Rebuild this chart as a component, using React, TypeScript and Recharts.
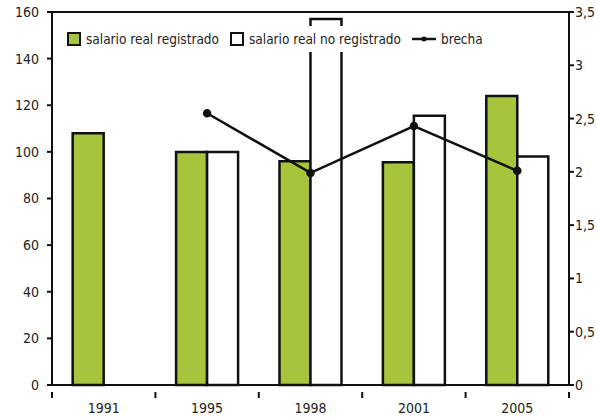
import React from "react";
import {
  ComposedChart,
  Bar,
  Line,
  XAxis,
  YAxis,
  ReferenceLine,
} from "recharts";

// años y series
const years = ["1991", "1995", "1998", "2001", "2005"];
const registrado = [108, 100, 96, 95.5, 124];
const noRegistrado = [null, 100, 157, 115.5, 98];
const brecha = [null, 2.55, 1.99, 2.43, 2.01];

const leftTicks = [0, 20, 40, 60, 80, 100, 120, 140, 160];
const rightTicks = [0, 0.5, 1, 1.5, 2, 2.5, 3, 3.5];

const GREEN = "#a6c43c";
const FONT = "'Liberation Sans Narrow', 'DejaVu Sans Condensed', 'Roboto Condensed', Arial, sans-serif";
const TEXT = "#222";

const data = years.map((y, i) => ({
  year: y,
  registrado: registrado[i],
  noRegistrado: noRegistrado[i],
  brecha: brecha[i],
}));

const W = 596;
const H = 418;
const LEFT_W = 52;
const RIGHT_W = 27;
const BAND = (W - LEFT_W - RIGHT_W) / years.length;

function YearTick(props: any) {
  const { x, y, payload, index } = props;
  const left = x - BAND / 2;
  const right = x + BAND / 2;
  return (
    <g>
      <line x1={left} y1={y - 1} x2={left} y2={y + 5} stroke="#111" strokeWidth={2} />
      {index === years.length - 1 && (
        <line x1={right} y1={y - 1} x2={right} y2={y + 5} stroke="#111" strokeWidth={2} />
      )}
      <text x={x} y={y + 20} textAnchor="middle" fill={TEXT} fontSize={14} fontFamily={FONT}>
        {payload.value}
      </text>
    </g>
  );
}

// leyenda superpuesta dentro del área del gráfico, con fondo blanco
function LegendBox() {
  const item = { display: "flex", alignItems: "center", marginRight: 11 } as const;
  const box = (fill: string) => (
    <span
      style={{
        display: "inline-block",
        width: 10,
        height: 10,
        border: "2px solid #111",
        background: fill,
        marginRight: 5,
      }}
    />
  );
  return (
    <div
      style={{
        position: "absolute",
        left: 63,
        top: 26,
        display: "flex",
        alignItems: "center",
        background: "#fff",
        padding: "4px 4px",
        fontFamily: FONT,
        fontSize: 13.5,
        color: TEXT,
        lineHeight: "18px",
        whiteSpace: "nowrap",
      }}
    >
      <span style={item}>{box(GREEN)}salario real registrado</span>
      <span style={item}>{box("#fff")}salario real no registrado</span>
      <span style={{ ...item, marginRight: 0 }}>
        <svg width={24} height={10} style={{ marginRight: 5 }}>
          <line x1={0} y1={5} x2={24} y2={5} stroke="#111" strokeWidth={2.5} />
          <circle cx={12} cy={5} r={2.5} fill="#111" />
        </svg>
        brecha
      </span>
    </div>
  );
}

export default function App() {
  return (
    <div style={{ position: "absolute", left: 0, top: 0, width: W, height: H, background: "#fff" }}>
      <ComposedChart
        width={W}
        height={H}
        data={data}
        margin={{ top: 12, right: 0, left: 0, bottom: 0 }}
        barCategoryGap="20%"
        barGap={0}
      >
        <XAxis
          dataKey="year"
          xAxisId="x"
          height={33}
          axisLine={{ stroke: "#111", strokeWidth: 2 }}
          tickLine={false}
          tick={<YearTick />}
          interval={0}
        />
        <YAxis
          yAxisId="left"
          orientation="left"
          width={LEFT_W}
          domain={[0, 160]}
          ticks={leftTicks}
          interval={0}
          axisLine={{ stroke: "#111", strokeWidth: 2 }}
          tickLine={{ stroke: "#111", strokeWidth: 2 }}
          tickSize={5}
          tickMargin={8}
          tick={{ fill: TEXT, fontSize: 14, fontFamily: FONT }}
        />
        <YAxis
          yAxisId="right"
          orientation="right"
          width={RIGHT_W}
          domain={[0, 3.5]}
          ticks={rightTicks}
          interval={0}
          axisLine={{ stroke: "#111", strokeWidth: 2 }}
          tickLine={{ stroke: "#111", strokeWidth: 2 }}
          tickSize={5}
          tickMargin={1}
          tickFormatter={(v: number) => String(v).replace(".", ",")}
          tick={{ fill: TEXT, fontSize: 14, fontFamily: FONT }}
        />
        <ReferenceLine xAxisId="x" yAxisId="left" y={160} stroke="#111" strokeWidth={2} />
        <Bar
          xAxisId="x"
          yAxisId="left"
          dataKey="registrado"
          name="salario real registrado"
          fill={GREEN}
          stroke="#111"
          strokeWidth={2.5}
          isAnimationActive={false}
        />
        <Bar
          xAxisId="x"
          yAxisId="left"
          dataKey="noRegistrado"
          name="salario real no registrado"
          fill="#fff"
          stroke="#111"
          strokeWidth={2.5}
          isAnimationActive={false}
        />
        <Line
          xAxisId="x"
          yAxisId="right"
          dataKey="brecha"
          name="brecha"
          stroke="#111"
          strokeWidth={2.5}
          dot={{ r: 3, fill: "#111", stroke: "#111" }}
          connectNulls={false}
          isAnimationActive={false}
        />
      </ComposedChart>
      <LegendBox />
    </div>
  );
}
